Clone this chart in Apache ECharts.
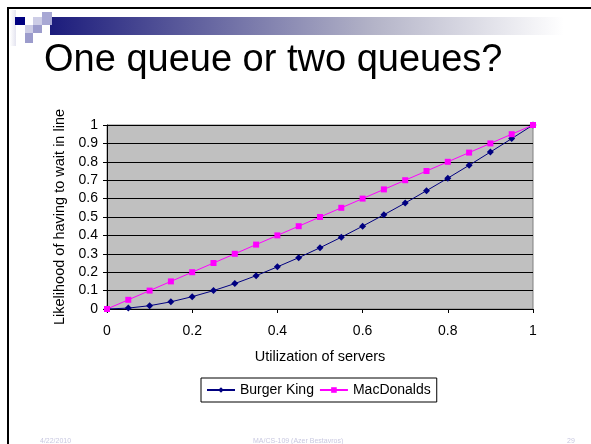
<!DOCTYPE html>
<html>
<head>
<meta charset="utf-8">
<script src="https://cdn.jsdelivr.net/npm/echarts@6/dist/echarts.min.js"></script>
<style>
  html, body { margin: 0; padding: 0; background: #fff; }
  #chart { width: 591px; height: 444px; }
</style>
</head>
<body>
<div id="chart"></div>
<script>
// utilization of servers (x)
var utilization = [0, 0.05, 0.1, 0.15, 0.2, 0.25, 0.3, 0.35, 0.4, 0.45, 0.5,
  0.55, 0.6, 0.65, 0.7, 0.75, 0.8, 0.85, 0.9, 0.95, 1];
// likelihood of waiting
var burgerKing = [0, 0.005, 0.018, 0.039, 0.067, 0.1, 0.138, 0.181, 0.229, 0.279, 0.333,
  0.39, 0.45, 0.512, 0.576, 0.643, 0.711, 0.781, 0.853, 0.926, 1];
var macDonalds = [0, 0.05, 0.1, 0.15, 0.2, 0.25, 0.3, 0.35, 0.4, 0.45, 0.5,
  0.55, 0.6, 0.65, 0.7, 0.75, 0.8, 0.85, 0.9, 0.95, 1];

function pairs(ys) {
  return utilization.map(function (x, i) { return [x, ys[i]]; });
}

var font = 'Liberation Sans, Arial, sans-serif';
var chart = echarts.init(document.getElementById('chart'));

var option = {
  backgroundColor: '#fff',
  animation: false,
  textStyle: { fontFamily: font },
  title: {
    text: 'One queue or two queues?',
    left: 39,
    top: 37,
    textStyle: { fontFamily: font, fontSize: 38, fontWeight: 'normal', color: '#000' }
  },
  graphic: [
    // slide frame
    { type: 'rect', shape: { x: 7, y: 7, width: 590, height: 2 }, style: { fill: '#000' } },
    { type: 'rect', shape: { x: 7, y: 7, width: 2, height: 440 }, style: { fill: '#000' } },
    // header bar
    {
      type: 'rect', shape: { x: 50, y: 17, width: 541, height: 18 },
      style: {
        fill: new echarts.graphic.LinearGradient(0, 0, 1, 0, [
          { offset: 0, color: '#1c1c7c' },
          { offset: 0.6, color: '#b4b4c8' },
          { offset: 0.95, color: '#ffffff' }
        ])
      }
    },
    {
      type: 'rect', shape: { x: 10, y: 10, width: 6, height: 36 },
      style: {
        fill: new echarts.graphic.LinearGradient(0, 0, 1, 0, [
          { offset: 0, color: '#ffffff' },
          { offset: 1, color: '#e4e4f0' }
        ])
      }
    },
    { type: 'rect', shape: { x: 15, y: 17, width: 10, height: 8 }, style: { fill: '#000080' } },
    { type: 'rect', shape: { x: 33, y: 17, width: 9, height: 8 }, style: { fill: '#cdcde6' } },
    { type: 'rect', shape: { x: 42, y: 12, width: 10, height: 13 }, style: { fill: '#a8a8d4' } },
    { type: 'rect', shape: { x: 25, y: 25, width: 8, height: 8 }, style: { fill: '#cdcde6' } },
    { type: 'rect', shape: { x: 33, y: 25, width: 9, height: 8 }, style: { fill: '#9c9ccc' } },
    { type: 'rect', shape: { x: 25, y: 33, width: 8, height: 10 }, style: { fill: '#9c9ccc' } },
    // footer
    { type: 'text', left: 40, top: 438, style: { text: '4/22/2010', fill: '#c8c8e0', font: '7px ' + font } },
    { type: 'text', left: 253, top: 438, style: { text: 'MA/CS-109 (Azer Bestavros)', fill: '#c8c8e0', font: '7px ' + font } },
    { type: 'text', left: 567, top: 438, style: { text: '29', fill: '#c8c8e0', font: '7px ' + font } }
  ],
  legend: {
    left: 201,
    top: 378,
    itemWidth: 28,
    itemHeight: 7,
    itemGap: 5,
    padding: [5, 6, 5, 5],
    borderColor: '#000',
    borderWidth: 1,
    textStyle: { fontFamily: font, fontSize: 14, color: '#000' },
    data: ['Burger King', 'MacDonalds']
  },
  grid: {
    left: 107,
    top: 125,
    width: 426,
    height: 184,
    show: true,
    backgroundColor: '#c0c0c0',
    borderColor: '#808080',
    borderWidth: 1
  },
  xAxis: {
    type: 'value',
    min: 0,
    max: 1,
    interval: 0.2,
    name: 'Utilization of servers',
    nameLocation: 'middle',
    nameGap: 40,
    nameTextStyle: { fontFamily: font, fontSize: 14.5, color: '#000' },
    axisLine: { lineStyle: { color: '#000' } },
    axisTick: { show: true, length: 4, lineStyle: { color: '#000' } },
    axisLabel: { fontFamily: font, fontSize: 14, color: '#000', margin: 15 },
    splitLine: { show: false }
  },
  yAxis: {
    type: 'value',
    min: 0,
    max: 1,
    interval: 0.1,
    name: 'Likelihood of having to wait in line',
    nameLocation: 'middle',
    nameGap: 37,
    nameTextStyle: { fontFamily: font, fontSize: 14.5, color: '#000' },
    axisLine: { show: true, lineStyle: { color: '#000' } },
    axisTick: { show: true, length: 4, lineStyle: { color: '#000' } },
    axisLabel: { fontFamily: font, fontSize: 14, color: '#000', margin: 9 },
    splitLine: { show: true, lineStyle: { color: '#000', width: 1 } }
  },
  series: [
    {
      name: 'Burger King',
      type: 'line',
      data: pairs(burgerKing),
      symbol: 'diamond',
      symbolSize: 7,
      color: '#000080',
      lineStyle: { color: '#000080', width: 1 },
      itemStyle: { color: '#000080' }
    },
    {
      name: 'MacDonalds',
      type: 'line',
      data: pairs(macDonalds),
      symbol: 'rect',
      symbolSize: 6,
      color: '#ff00ff',
      lineStyle: { color: '#ff00ff', width: 1 },
      itemStyle: { color: '#ff00ff' }
    }
  ]
};

chart.setOption(option);
</script>
</body>
</html>
